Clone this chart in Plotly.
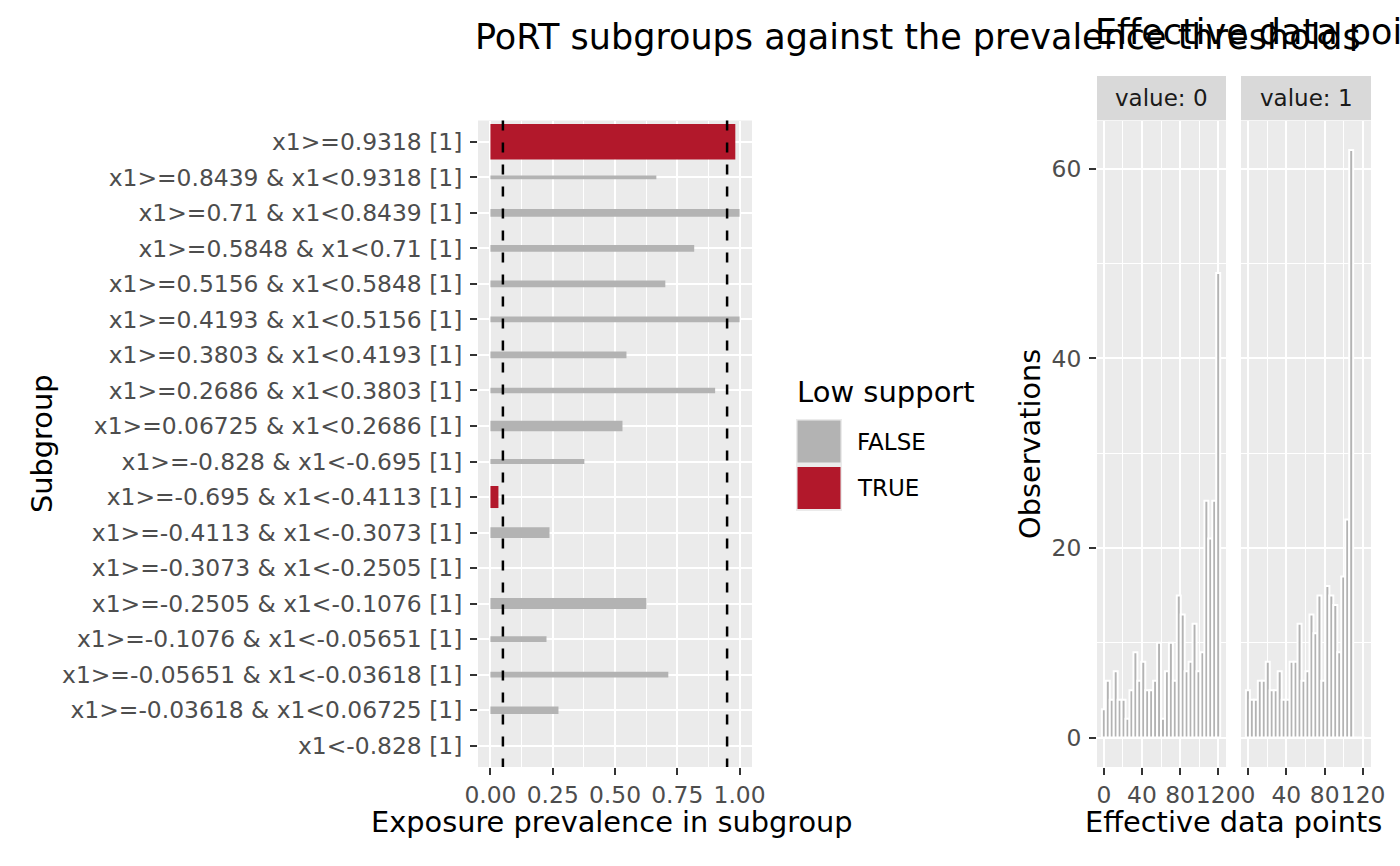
import plotly.graph_objects as go

W, H = 1400, 866
FONT = "DejaVu Sans"

# PoRT subgroups, listed top to bottom
subgroups = [
    "x1>=0.9318 [1]",
    "x1>=0.8439 & x1<0.9318 [1]",
    "x1>=0.71 & x1<0.8439 [1]",
    "x1>=0.5848 & x1<0.71 [1]",
    "x1>=0.5156 & x1<0.5848 [1]",
    "x1>=0.4193 & x1<0.5156 [1]",
    "x1>=0.3803 & x1<0.4193 [1]",
    "x1>=0.2686 & x1<0.3803 [1]",
    "x1>=0.06725 & x1<0.2686 [1]",
    "x1>=-0.828 & x1<-0.695 [1]",
    "x1>=-0.695 & x1<-0.4113 [1]",
    "x1>=-0.4113 & x1<-0.3073 [1]",
    "x1>=-0.3073 & x1<-0.2505 [1]",
    "x1>=-0.2505 & x1<-0.1076 [1]",
    "x1>=-0.1076 & x1<-0.05651 [1]",
    "x1>=-0.05651 & x1<-0.03618 [1]",
    "x1>=-0.03618 & x1<0.06725 [1]",
    "x1<-0.828 [1]",
]
prevalence = [0.983, 0.666, 1.0, 0.818, 0.702, 1.0, 0.546, 0.902, 0.53,
              0.377, 0.032, 0.237, 0.0, 0.626, 0.225, 0.714, 0.273, 0.0]
# relative subgroup size -> bar thickness
relative_size = [1.0, 0.11, 0.22, 0.19, 0.19, 0.16, 0.19, 0.16, 0.30,
                 0.14, 0.62, 0.30, 0.0, 0.31, 0.16, 0.16, 0.21, 0.0]
low_support = [True, False, False, False, False, False, False, False, False,
               False, True, False, False, False, False, False, False, False]
thresholds = [0.05, 0.95]

# histogram of effective data points, 30 bins
bin_width = 120 / 29
counts_value0 = [3, 6, 4, 7, 4, 4, 2, 5, 9, 6, 8, 5, 5, 6, 10,
                 2, 7, 10, 6, 15, 13, 7, 8, 12, 7, 9, 25, 21, 25, 49]
counts_value1 = [5, 4, 4, 6, 6, 8, 5, 5, 7, 4, 4, 8, 8, 12, 6,
                 7, 13, 11, 15, 6, 16, 15, 14, 9, 17, 23, 62, 0, 0, 0]
bin_centers = [i * bin_width for i in range(len(counts_value0))]

GREY = "#B3B3B3"
RED = "#B2182B"
PANEL = "#EBEBEB"
TICK = "#4D4D4D"
TICK_SIZE = 23.4
TITLE_SIZE = 28.8


def px(x):
    return x / W


def py(y):
    return 1 - y / H


top, bottom = 120.5, 767
ydom = [py(bottom), py(top)]

fig = go.Figure()

for flag, color in [(False, GREY), (True, RED)]:
    idx = [i for i, v in enumerate(low_support) if v == flag]
    fig.add_trace(
        go.Bar(
            y=[subgroups[i] for i in idx],
            x=[prevalence[i] for i in idx],
            width=[relative_size[i] for i in idx],
            orientation="h",
            marker=dict(color=color, line=dict(width=0)),
            showlegend=False,
            xaxis="x",
            yaxis="y",
        )
    )

for counts, xa, ya in [(counts_value0, "x2", "y2"), (counts_value1, "x3", "y3")]:
    fig.add_trace(
        go.Bar(
            x=bin_centers,
            y=counts,
            width=bin_width,
            marker=dict(color=GREY, line=dict(color="white", width=2)),
            showlegend=False,
            xaxis=xa,
            yaxis=ya,
        )
    )

axis_common = dict(
    automargin=False,
    showgrid=True,
    gridcolor="white",
    gridwidth=1.6,
    zeroline=False,
    showline=False,
    ticks="outside",
    ticklen=7,
    tickwidth=1.5,
    tickcolor="#333333",
    tickfont=dict(family=FONT, size=TICK_SIZE, color=TICK),
)

fig.update_layout(
    width=W,
    height=H,
    autosize=False,
    margin=dict(l=0, r=0, t=0, b=0, pad=0),
    paper_bgcolor="white",
    plot_bgcolor=PANEL,
    barmode="overlay",
    font=dict(family=FONT, color="black"),
    xaxis=dict(
        axis_common,
        domain=[px(478), px(752)],
        anchor="y",
        range=[-0.05, 1.05],
        tickangle=0,
        tickvals=[0, 0.25, 0.5, 0.75, 1.0],
        ticktext=["0.00", "0.25", "0.50", "0.75", "1.00"],
        minor=dict(tickvals=[0.125, 0.375, 0.625, 0.875], showgrid=True,
                   gridcolor="white", gridwidth=0.8),
    ),
    yaxis=dict(
        axis_common,
        domain=ydom,
        anchor="x",
        type="category",
        categoryorder="array",
        categoryarray=subgroups,
        range=[len(subgroups) - 0.4, -0.6],
        ticklabelstandoff=3,
    ),
    xaxis2=dict(
        axis_common,
        domain=[px(1097), px(1226)],
        anchor="y2",
        range=[-7.2, 128.2],
        tickangle=0,
        tickvals=[0, 40, 80, 120],
        minor=dict(tickvals=[20, 60, 100], showgrid=True, gridcolor="white", gridwidth=0.8),
    ),
    yaxis2=dict(
        axis_common,
        domain=ydom,
        anchor="x2",
        range=[-3.1, 65.1],
        tickvals=[0, 20, 40, 60],
        minor=dict(tickvals=[10, 30, 50], showgrid=True, gridcolor="white", gridwidth=0.8),
        ticklabelstandoff=3,
    ),
    xaxis3=dict(
        axis_common,
        domain=[px(1241), px(1371)],
        anchor="y3",
        range=[-7.2, 128.2],
        tickangle=0,
        tickvals=[0, 40, 80, 120],
        minor=dict(tickvals=[20, 60, 100], showgrid=True, gridcolor="white", gridwidth=0.8),
    ),
    yaxis3=dict(
        axis_common,
        domain=ydom,
        anchor="x3",
        range=[-3.1, 65.1],
        tickvals=[0, 20, 40, 60],
        showticklabels=False,
        ticks="",
        minor=dict(tickvals=[10, 30, 50], showgrid=True, gridcolor="white", gridwidth=0.8),
    ),
)

shapes = []
# prevalence thresholds
for t in thresholds:
    shapes.append(dict(type="line", xref="x", yref="paper", x0=t, x1=t,
                       y0=py(top), y1=py(bottom),
                       line=dict(color="black", width=2.5, dash="10px,12px")))

# facet strips
for x0, x1 in [(1097, 1226), (1241, 1371)]:
    shapes.append(dict(type="rect", xref="paper", yref="paper",
                       x0=px(x0), x1=px(x1), y0=py(120), y1=py(76),
                       fillcolor="#D9D9D9", line=dict(width=0), layer="below"))

# legend keys
shapes.append(dict(type="rect", xref="paper", yref="paper", x0=px(796), x1=px(842),
                   y0=py(511), y1=py(419), fillcolor=PANEL, line=dict(width=0)))
shapes.append(dict(type="rect", xref="paper", yref="paper", x0=px(797.5), x1=px(840.5),
                   y0=py(462.5), y1=py(420.5), fillcolor=GREY, line=dict(width=0)))
shapes.append(dict(type="rect", xref="paper", yref="paper", x0=px(797.5), x1=px(840.5),
                   y0=py(509), y1=py(467), fillcolor=RED, line=dict(width=0)))
fig.update_layout(shapes=shapes)


def text(s, x, y, size, color="black", xanchor="center", yanchor="middle", angle=0):
    fig.add_annotation(text=s, x=px(x), y=py(y), xref="paper", yref="paper",
                       showarrow=False, xanchor=xanchor, yanchor=yanchor,
                       textangle=angle, font=dict(family=FONT, size=size, color=color))


text("PoRT subgroups against the prevalence thresholds", 473, 37, 35, xanchor="left")
text("Effective data points", 1093, 32, 35, xanchor="left")
text("Subgroup", 42, 444, TITLE_SIZE, angle=-90)
text("Exposure prevalence in subgroup", 612, 822, TITLE_SIZE)
text("Observations", 1030, 444, TITLE_SIZE, angle=-90)
text("Effective data points", 1233, 822, TITLE_SIZE)
text("value: 0", 1161.5, 98, 23, color="#1A1A1A")
text("value: 1", 1306, 98, 23, color="#1A1A1A")
text("Low support", 795, 392, 29, xanchor="left")
text("FALSE", 855, 442, 23, xanchor="left")
text("TRUE", 855, 488, 23, xanchor="left")

# drop the default page margin so the figure sits at the window's corner
fig.write_html(
    "out.html",
    config={"displayModeBar": False, "responsive": False},
    post_script="document.body.style.margin = '0'; document.body.style.overflow = 'hidden';",
)
